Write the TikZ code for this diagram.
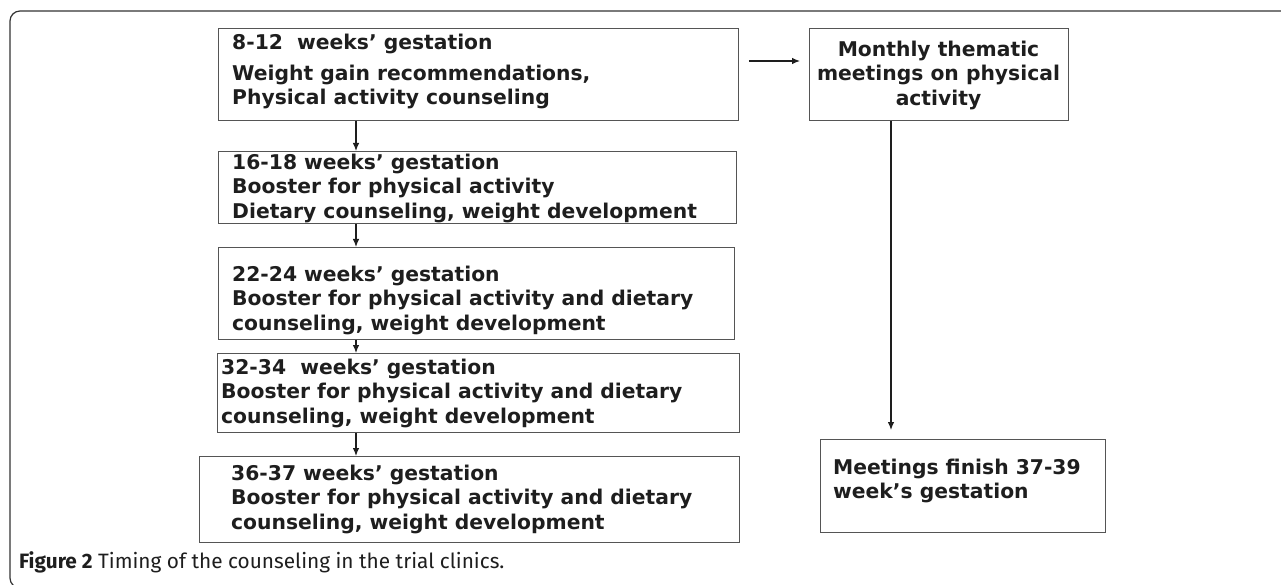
\documentclass[tikz,border=0pt]{standalone}
\usepackage{fontspec}
\setmainfont{DejaVu Sans}
\newfontfamily\capfont{Fira Sans}
\usetikzlibrary{arrows.meta}
\definecolor{txtc}{HTML}{1E1E1E}
\definecolor{boxc}{HTML}{555555}
\begin{document}
\begin{tikzpicture}[x=1pt,y=-1pt,
  boxst/.style={draw=boxc, line width=0.9pt, inner sep=0pt, anchor=north west},
  txt/.style={font=\bfseries\fontsize{20.3}{24.5}\selectfont, text=txtc, inner sep=0pt, align=left, anchor=north west},
  ctxt/.style={txt, align=center, anchor=north},
  arr/.style={-{Latex[length=8pt,width=6.5pt]}, line width=1.1pt, draw=txtc}]
\useasboundingbox (0,0) rectangle (1281,585);
% outer frame
\draw[line width=1.2pt, draw=black!80, rounded corners=10pt] (1300,11) -- (10,11) -- (10,588) -- (60,588);
% left column boxes
\node[boxst, minimum width=520pt, minimum height=92pt] (b1) at (218,28) {};
\node[boxst, minimum width=518pt, minimum height=72pt] (b2) at (218,151) {};
\node[boxst, minimum width=516pt, minimum height=92pt] (b3) at (218,247) {};
\node[boxst, minimum width=522pt, minimum height=79pt] (b4) at (217,353) {};
\node[boxst, minimum width=540pt, minimum height=86pt] (b5) at (199,456) {};
% right column boxes
\node[boxst, minimum width=259pt, minimum height=92pt] (m1) at (809,28) {};
\node[boxst, minimum width=285pt, minimum height=93pt] (m2) at (820,439) {};
% texts
\node[txt] (t1) at (232,34) {8-12~ weeks’ gestation\\[6pt]Weight gain recommendations,\\Physical activity counseling};
\node[txt] (t2) at (232,153.5) {16-18 weeks’ gestation\\Booster for physical activity\\Dietary counseling, weight development};
\node[txt] (t3) at (232,265.5) {22-24 weeks’ gestation\\Booster for physical activity and dietary\\counseling, weight development};
\node[txt] (t4) at (221,358.5) {32-34~ weeks’ gestation\\Booster for physical activity and dietary\\counseling, weight development};
\node[txt] (t5) at (231,464.5) {36-37 weeks’ gestation\\Booster for physical activity and dietary\\counseling, weight development};
\node[ctxt] (t6) at (938.5,40.5) {Monthly thematic\\meetings on physical\\activity};
\node[txt] (t7) at (833,458.5) {Meetings finish 37-39\\week’s gestation};
% caption
\node[inner sep=0pt, anchor=west, text=txtc, font=\capfont\fontsize{20.8}{24}\selectfont] (cap) at (19,562) {\textbf{Figure 2} Timing of the counseling in the trial clinics.};
% connectors
\coordinate (a1s) at (356,120);
\draw[arr] (b1.south -| a1s) -- (b2.north -| a1s);
\draw[arr] (b2.south -| a1s) -- (b3.north -| a1s);
\draw[arr] (b3.south -| a1s) -- (b4.north -| a1s);
\draw[arr] (b4.south -| a1s) -- (b5.north -| a1s);
\coordinate (hy) at (0,61);
\draw[arr, shorten <=10pt, shorten >=9pt] (b1.east |- hy) -- (m1.west |- hy);
\coordinate (vx) at (891,0);
\draw[arr, shorten >=9pt] (m1.south -| vx) -- (m2.north -| vx);
\end{tikzpicture}
\end{document}
